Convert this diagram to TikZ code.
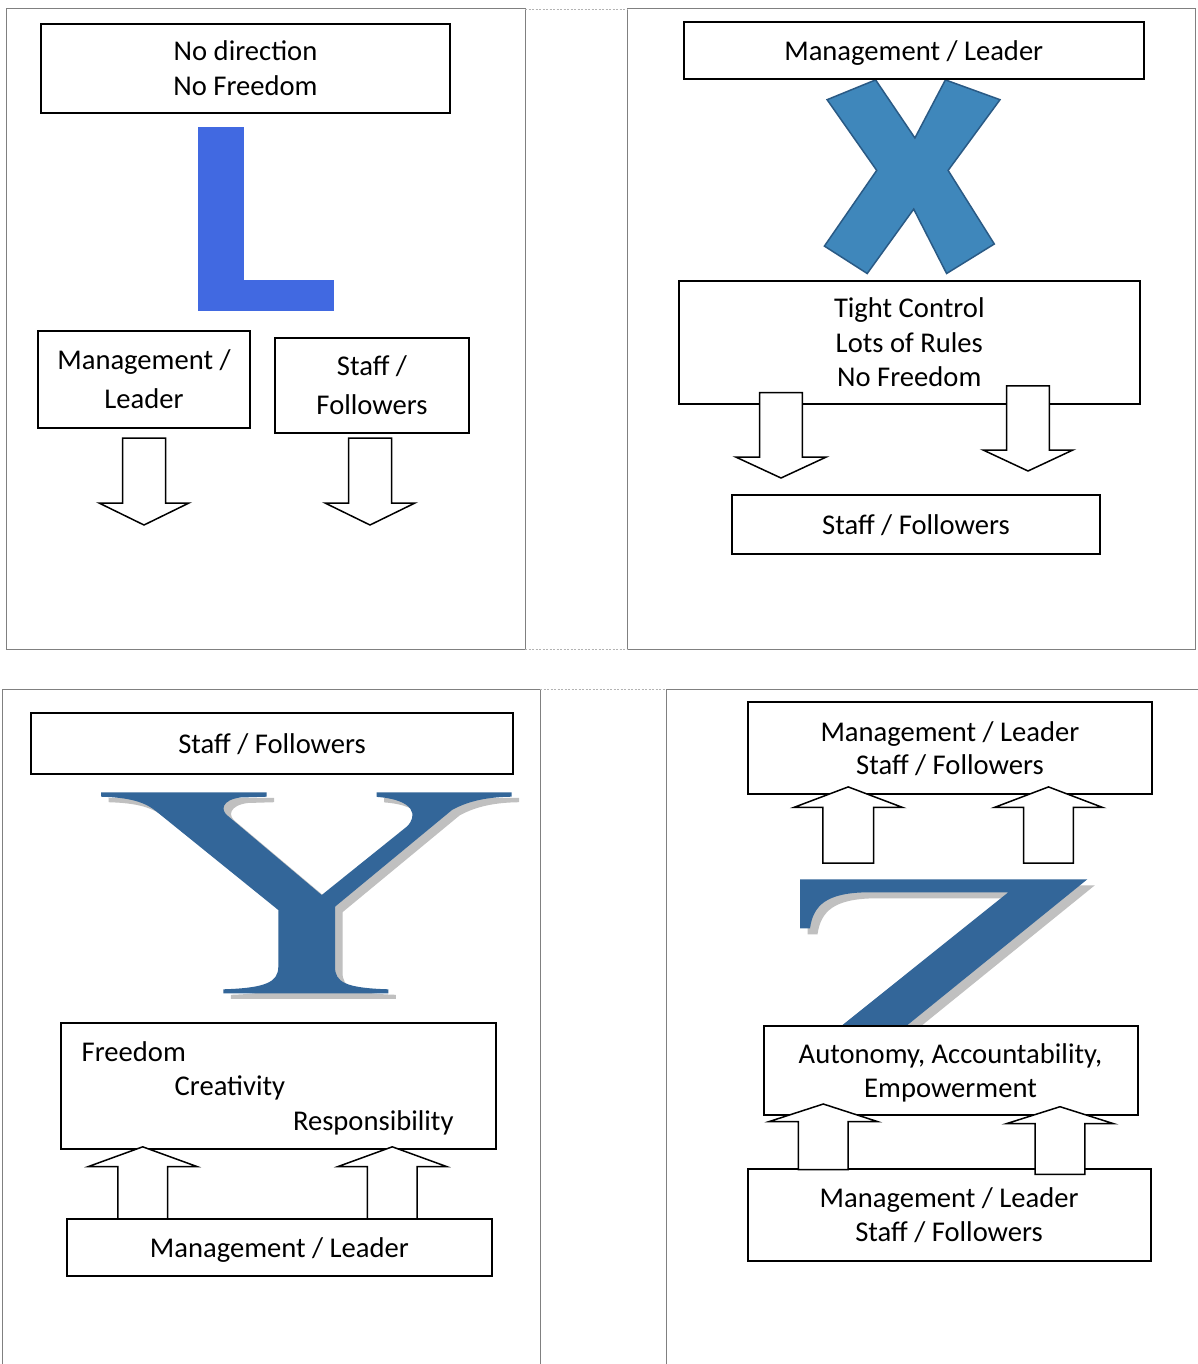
\documentclass[tikz,border=0pt]{standalone}
\usepackage{fontspec}
\setmainfont{Carlito}
\definecolor{Lblue}{HTML}{4169E1}
\definecolor{Xblue}{HTML}{3F87BB}
\definecolor{Xedge}{HTML}{2A5A85}
\definecolor{YZblue}{HTML}{336699}
\definecolor{shadowgray}{HTML}{C0C0C0}
\definecolor{panelgray}{HTML}{808080}
\tikzset{
  panel/.style={draw=panelgray, line width=1pt},
  gridline/.style={draw=panelgray!60, line width=0.8pt, dash pattern=on 2pt off 1.5pt},
  box/.style={draw=black, fill=white, line width=2pt, inner sep=0pt, outer sep=0pt, align=center, text depth=0pt, font=\fontsize{28.6}{35}\selectfont},
  barrow/.style={draw=black, fill=white, line width=1.5pt, line join=miter},
  word/.style={font=\fontsize{28.6}{35}\selectfont, inner sep=0pt},
}
% block arrow: name, tip x, tip y, head half width, shaft half width, head length, total length, direction (1 = pointing down, -1 = pointing up)
\newcommand{\blockarrow}[8]{%
  \coordinate (#1) at (#2,#3);
  \draw[barrow] (#1) -- ++({-(#4)},{-(#8)*(#6)}) -- ++({(#4)-(#5)},0) -- ++(0,{-(#8)*((#7)-(#6))})
    -- ++({2*(#5)},0) -- ++(0,{(#8)*((#7)-(#6))}) -- ++({(#4)-(#5)},0) -- cycle;}
\begin{document}
\begin{tikzpicture}[x=1pt,y=-1pt]
\useasboundingbox (0,0) rectangle (1198,1364);
\fill[white] (0,0) rectangle (1198,1364);

% ---------- panel frames ----------
\draw[panel] (6,9) rectangle (525,649);
\draw[panel] (627,9) rectangle (1195,649);
\draw[panel] (2,1380) -- (2,689) -- (540,689) -- (540,1380);
\draw[panel] (666,1380) -- (666,689) -- (1210,689);
\draw[gridline] (525,9) -- (627,9);
\draw[gridline] (525,649) -- (627,649);
\draw[gridline] (540,689) -- (666,689);

% ---------- panel 1 : L ----------
\node[box, minimum width=409pt, minimum height=89pt] (p1top) at (245.5,68.5) {No direction\\No Freedom};
\fill[Lblue] (198,127.5) rectangle (244,311);
\fill[Lblue] (198,280) rectangle (334,311);
\node[box, minimum width=212pt, minimum height=97pt, font=\fontsize{28.6}{39}\selectfont] (p1lead) at (144,379.5) {Management /\\Leader};
\node[box, minimum width=194pt, minimum height=95pt, font=\fontsize{28.6}{39}\selectfont] (p1staff) at (372,385.5) {Staff /\\Followers};
\blockarrow{p1a1}{144}{525}{45}{21.5}{22}{87}{1}
\blockarrow{p1a2}{370}{525}{45}{21.5}{22}{87}{1}

% ---------- panel 2 : X ----------
\filldraw[fill=Xblue, draw=Xedge, line width=1.5pt, line join=miter]
  (827.1,99.7) -- (875.6,79.9) -- (914.9,138.0) -- (945.4,79.9) -- (1000.0,99.7) -- (948.1,170.4)
  -- (994.3,244.0) -- (946.6,273.5) -- (913.7,209.1) -- (867.2,273.5) -- (824.4,246.1) -- (876.7,170.4) -- cycle;
\node[box, minimum width=460.3pt, minimum height=57pt] (p2lead) at (913.75,50.5) {Management / Leader};
\node[box, minimum width=461.4pt, minimum height=123.4pt, font=\fontsize{28.6}{34.5}\selectfont] (p2rules) at (909.3,342.3) {Tight Control\\Lots of Rules\\No Freedom};
\node[box, minimum width=368pt, minimum height=58.9pt] (p2staff) at (916,524.15) {Staff / Followers};
\blockarrow{p2a1}{781}{478}{45.3}{21.4}{21}{85.5}{1}
\blockarrow{p2a2}{1028}{471}{44.9}{21.4}{21}{85.2}{1}

% ---------- panel 3 : Y ----------
\node[box, minimum width=481.4pt, minimum height=61.1pt] (p3staff) at (272.1,743.25) {Staff / Followers};
\foreach \dx/\dy/\col in {7.5/5.5/shadowgray, 0/0/YZblue}{
  \fill[\col, shift={(\dx,\dy)}]
    (101,792.3) -- (266.7,792.3) -- (266.7,796.7) -- (240,797.5)
    .. controls (222,800) and (220,810) .. (228,816) -- (321.7,895) -- (406.7,826.7)
    .. controls (418,816) and (415,800) .. (378,797) -- (376.7,796.7) -- (376.7,792.3)
    -- (511.7,792.3) -- (511.7,796.7) .. controls (490,797) and (470,800) .. (452,810)
    -- (335,906.7) -- (335,966.7) .. controls (335,982) and (345,988) .. (388.3,989.3)
    -- (388.3,993.3) -- (223.3,993.3) -- (223.3,989.3) .. controls (266,988) and (278.3,982) .. (278.3,966.7)
    -- (278.3,910) -- (156.7,811.7) .. controls (145,802) and (130,797.5) .. (101,796.7) -- cycle;
}
\node[box, minimum width=435.9pt, minimum height=125.2pt] (p3values) at (278.45,1086) {};
\node[word, anchor=base west] (p3w1) at (81.5,1061) {Freedom};
\node[word, anchor=base west] (p3w2) at (174.5,1095.5) {Creativity};
\node[word, anchor=base west] (p3w3) at (292.8,1130) {Responsibility};
\node[box, minimum width=424.8pt, minimum height=57.2pt] (p3lead) at (279.4,1247.4) {Management / Leader};
\blockarrow{p3a1}{142.7}{1146.8}{54.2}{24.9}{19.7}{72}{-1}
\blockarrow{p3a2}{392.3}{1146.8}{54.2}{24.9}{19.7}{72}{-1}

% ---------- panel 4 : Z ----------
\node[box, minimum width=403.5pt, minimum height=92.5pt, font=\fontsize{28.6}{33.5}\selectfont] (p4top) at (949.95,748.05) {Management / Leader\\Staff / Followers};
\blockarrow{p4a1}{848.2}{786.9}{54.3}{25.3}{20.5}{76.3}{-1}
\blockarrow{p4a2}{1048.5}{786.9}{54}{24.9}{20.5}{76.3}{-1}
\foreach \dx/\dy/\col in {7.5/6/shadowgray, 0/0/YZblue}{
  \fill[\col, shift={(\dx,\dy)}]
    (800,879.3) -- (1087.3,879.3) -- (905,1027) -- (840,1027) -- (1008.3,892.3) -- (866.7,892.3)
    .. controls (826.7,893) and (813.3,905) .. (810,928.3) -- (800,928.3) -- cycle;
}
\node[box, minimum width=374pt, minimum height=89.4pt, font=\fontsize{28.6}{34}\selectfont] (p4values) at (950.5,1070.3) {Autonomy, Accountability,\\Empowerment};
\node[box, minimum width=403.2pt, minimum height=91.7pt, font=\fontsize{28.6}{33.7}\selectfont] (p4bottom) at (949.1,1214.85) {Management / Leader\\Staff / Followers};
\blockarrow{p4a3}{823.3}{1104}{54}{24.9}{17.5}{65.5}{-1}
\blockarrow{p4a4}{1060}{1106.7}{53.7}{24.9}{17}{67.6}{-1}
\end{tikzpicture}
\end{document}
